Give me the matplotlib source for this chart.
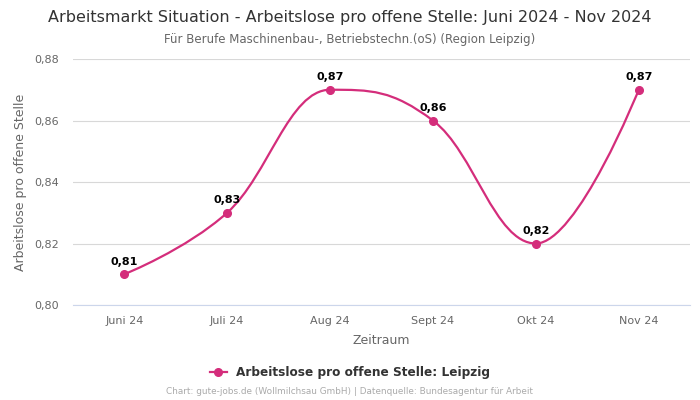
import numpy as np
import matplotlib.pyplot as plt
from matplotlib.path import Path
from matplotlib.patches import PathPatch
from matplotlib.lines import Line2D

months = ['Juni 24', 'Juli 24', 'Aug 24', 'Sept 24', 'Okt 24', 'Nov 24']
values = [0.81, 0.83, 0.87, 0.86, 0.82, 0.87]
labels = ['0,81', '0,83', '0,87', '0,86', '0,82', '0,87']
yticks = [0.80, 0.82, 0.84, 0.86, 0.88]

color = '#d42d7b'

def spline_path(xs, ys):
    # highcharts-like spline control points
    sm, den = 1.5, 2.5
    n = len(xs)
    verts = [(xs[0], ys[0])]
    codes = [Path.MOVETO]
    ctrl = []
    for i in range(n):
        if i == 0 or i == n - 1:
            ctrl.append(((xs[i], ys[i]), (xs[i], ys[i])))
            continue
        lx = (sm * xs[i] + xs[i - 1]) / den
        ly = (sm * ys[i] + ys[i - 1]) / den
        rx = (sm * xs[i] + xs[i + 1]) / den
        ry = (sm * ys[i] + ys[i + 1]) / den
        corr = (ry - ly) * (rx - xs[i]) / (rx - lx) + ys[i] - ry
        ly += corr
        ry += corr
        if ly > ys[i - 1] and ly > ys[i]:
            ly = max(ys[i - 1], ys[i]); ry = 2 * ys[i] - ly
        elif ly < ys[i - 1] and ly < ys[i]:
            ly = min(ys[i - 1], ys[i]); ry = 2 * ys[i] - ly
        if ry > ys[i + 1] and ry > ys[i]:
            ry = max(ys[i + 1], ys[i]); ly = 2 * ys[i] - ry
        elif ry < ys[i + 1] and ry < ys[i]:
            ry = min(ys[i + 1], ys[i]); ly = 2 * ys[i] - ry
        ctrl.append(((lx, ly), (rx, ry)))
    for i in range(1, n):
        verts += [ctrl[i - 1][1], ctrl[i][0], (xs[i], ys[i])]
        codes += [Path.CURVE4] * 3
    return Path(verts, codes)

fig = plt.figure(figsize=(7, 4), dpi=100)
ax = fig.add_axes([0.104, 0.2375, 0.882, 0.615])

x = np.arange(len(months))
ax.add_patch(PathPatch(spline_path(list(x), values), fill=False,
                       edgecolor=color, lw=1.6, zorder=3))
ax.plot(x, values, 'o', color=color, ms=5.5, zorder=4)
for xi, v, t in zip(x, values, labels):
    ax.annotate(t, (xi, v), xytext=(0, 5.5), textcoords='offset points',
                ha='center', va='bottom', fontsize=8, fontweight='bold', color='black')

ax.set_xlim(-0.5, 5.5)
ax.set_ylim(0.80, 0.88)
ax.set_yticks(yticks)
ax.set_yticklabels([('%.2f' % t).replace('.', ',') for t in yticks])
ax.set_xticks(x)
ax.set_xticklabels(months)
ax.grid(axis='y', color='#d8d8d8', lw=0.8)
ax.set_axisbelow(True)
for s in ['top', 'right', 'left']:
    ax.spines[s].set_visible(False)
ax.spines['bottom'].set_color('#ccd6eb')
ax.tick_params(axis='both', length=0, labelsize=8, labelcolor='#666666', pad=8)
ax.tick_params(axis='y', pad=10)
ax.set_xlabel('Zeitraum', fontsize=9, color='#666666', labelpad=6)
ax.set_ylabel('Arbeitslose pro offene Stelle', fontsize=9, color='#666666', labelpad=5)

fig.text(0.5, 0.957, 'Arbeitsmarkt Situation - Arbeitslose pro offene Stelle: Juni 2024 - Nov 2024',
         ha='center', va='center', fontsize=11.5, color='#333333')
fig.text(0.5, 0.902, 'Für Berufe Maschinenbau-, Betriebstechn.(oS) (Region Leipzig)',
         ha='center', va='center', fontsize=8.5, color='#666666')

h = Line2D([], [], color=color, marker='o', ms=5.5, lw=1.6)
fig.legend([h], ['Arbeitslose pro offene Stelle: Leipzig'], loc='center',
           bbox_to_anchor=(0.5, 0.068), frameon=False, handlelength=1.4,
           prop={'size': 8.7, 'weight': 'bold'}, labelcolor='#333333')
fig.text(0.5, 0.02, 'Chart: gute-jobs.de (Wollmilchsau GmbH) | Datenquelle: Bundesagentur für Arbeit',
         ha='center', va='center', fontsize=6.4, color='#aaaaaa')

fig.savefig('out.png', dpi=100)
